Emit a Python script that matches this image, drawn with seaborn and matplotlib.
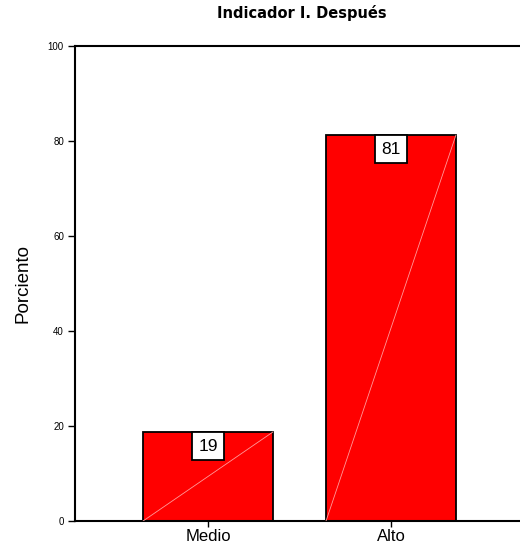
import matplotlib
matplotlib.use("Agg")
import matplotlib.pyplot as plt
import seaborn as sns
import pandas as pd

categories = ["Medio", "Alto"]
values = [18.75, 81.25]
labels = ["19", "81"]
yticks = [0, 20, 40, 60, 80, 100]
title = "Indicador I. Después"
ylabel = "Porciento"

sns.set_theme(style="white")
plt.rcParams['font.family'] = ['Liberation Sans', 'DejaVu Sans']
plt.rcParams.update({"text.color": "black", "axes.labelcolor": "black",
                     "xtick.color": "black", "ytick.color": "black"})

df = pd.DataFrame({"cat": categories, "val": values})

fig = plt.figure(figsize=(5.2, 5.54), dpi=100)
ax = fig.add_axes([75/520, 33/554, 449/520, 475/554])

sns.barplot(data=df, x="cat", y="val", color="#ff0000", saturation=1,
            edgecolor="black", linewidth=1.3, width=0.71, ax=ax, zorder=2)

# faint diagonal lines across each bar (derived from bar geometry)
for p in ax.patches:
    x0, y0 = p.get_x(), p.get_y()
    x1, y1 = x0 + p.get_width(), y0 + p.get_height()
    ax.plot([x0, x1], [y0, y1], color="#ff9a9a", lw=0.6, zorder=3)

pad = 0.38
fs = 12.5
for i, (v, lab) in enumerate(zip(values, labels)):
    ax.annotate(lab, xy=(i, v), xytext=(0, -pad * fs), textcoords="offset points",
                ha="center", va="top", fontsize=fs, zorder=5, color="black",
                bbox=dict(boxstyle=f"square,pad={pad}", fc="white", ec="black", lw=1.3))

ax.set_xlim(-0.727, 1.727)
ax.set_ylim(0, 100)
ax.set_yticks(yticks)
ax.set_yticklabels([str(t) for t in yticks], fontsize=7)
ax.tick_params(axis="y", length=5, width=1, color="black", direction="out", left=True, pad=3)
ax.tick_params(axis="x", length=4, width=1, color="black", direction="out", bottom=True,
               labelsize=12, pad=2)
ax.set_xlabel("")
ax.set_ylabel(ylabel, fontsize=13.5, labelpad=12)

for s in ["left", "bottom", "top"]:
    ax.spines[s].set_visible(True)
    ax.spines[s].set_color("black")
    ax.spines[s].set_linewidth(1.5)
ax.spines["right"].set_visible(False)

fig.text(302/520, 1 - 13/554, title, ha="center", va="center", color="black",
         fontsize=10.5, fontweight="heavy", family=["DejaVu Sans"])

fig.savefig("out.png", dpi=100)
